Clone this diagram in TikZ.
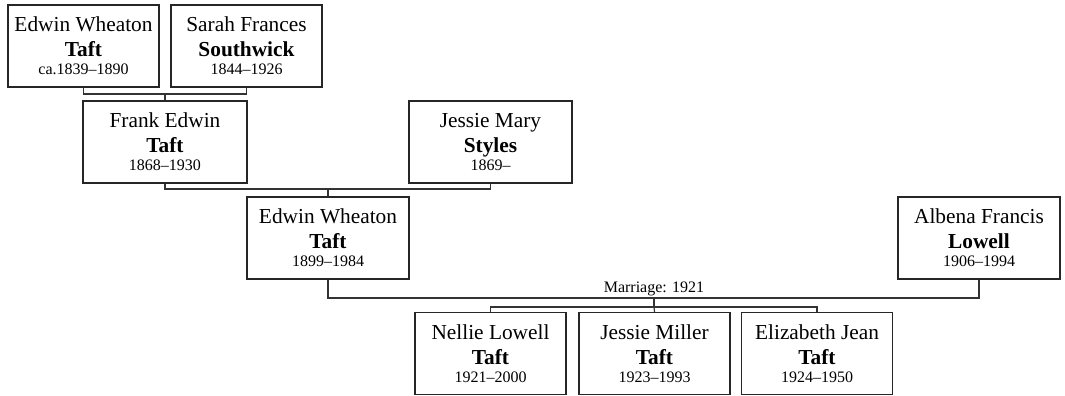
\documentclass[tikz,border=0pt]{standalone}
\usepackage{fontspec}
\setmainfont{Liberation Serif}
\usetikzlibrary{positioning}
\newcommand{\datefont}{\fontsize{12}{13.5}\selectfont}

\begin{document}
\begin{tikzpicture}[
  x=0.75pt, y=-0.75pt,
  box/.style={draw=black!85, line width=0.9pt, align=center, minimum height=61.5pt, inner sep=2pt,
    font=\fontsize{16}{18.75}\selectfont},
  link/.style={draw=black!80, line width=0.9pt},
  tag/.style={font=\datefont, inner sep=1pt}
]
\useasboundingbox (0,0) rectangle (1065,396);

% --- first generation ------------------------------------------------------
\node[box, minimum width=113.25pt] (ewa) at (83.5,46) {Edwin Wheaton\\\textbf{Taft}\\[-5.25pt]\datefont ca.1839–1890};
\node[box, minimum width=113.25pt] (sfs) at (246.5,46) {Sarah Frances\\\textbf{Southwick}\\[-5.25pt]\datefont 1844–1926};

% --- second generation -----------------------------------------------------
\node[box, minimum width=123pt] (fet) at (165,142) {Frank Edwin\\\textbf{Taft}\\[-5.25pt]\datefont 1868–1930};
\node[box, minimum width=122.25pt] (jms) at (490.5,142) {Jessie Mary\\\textbf{Styles}\\[-5.25pt]\datefont 1869–};

% --- third generation ------------------------------------------------------
\node[box, minimum width=121.5pt] (ewb) at (328,238) {Edwin Wheaton\\\textbf{Taft}\\[-5.25pt]\datefont 1899–1984};
\node[box, minimum width=121.5pt] (afl) at (979,238) {Albena Francis\\\textbf{Lowell}\\[-5.25pt]\datefont 1906–1994};

% --- children --------------------------------------------------------------
\node[box, minimum width=113.25pt] (nlt) at (490.5,353.5) {Nellie Lowell\\\textbf{Taft}\\[-5.25pt]\datefont 1921–2000};
\node[box, minimum width=113.25pt] (jmt) at (654.5,353.5) {Jessie Miller\\\textbf{Taft}\\[-5.25pt]\datefont 1923–1993};
\node[box, minimum width=113.25pt] (ejt) at (817,353.5) {Elizabeth Jean\\\textbf{Taft}\\[-5.25pt]\datefont 1924–1950};

% --- couples and descent ---------------------------------------------------
\coordinate (c1) at (165,94);
\coordinate (c2) at (328,189);
\coordinate (c3) at (654,298);
\coordinate (c4) at (654,307);

\draw[link] (ewa.south) |- (c1) -| (sfs.south);
\draw[link] (c1) -- (fet.north);

\draw[link] (fet.south) |- (c2) -| (jms.south);
\draw[link] (c2) -- (ewb.north);

\draw[link] (ewb.south) |- (c3) -| (afl.south);
\node[tag, above] (mar) at (c3) {Marriage: 1921};
\draw[link] (c3) -- (c4);
\draw[link] (nlt.north) |- (c4) -| (ejt.north);
\draw[link] (c4) -- (jmt.north);

\end{tikzpicture}
\end{document}
